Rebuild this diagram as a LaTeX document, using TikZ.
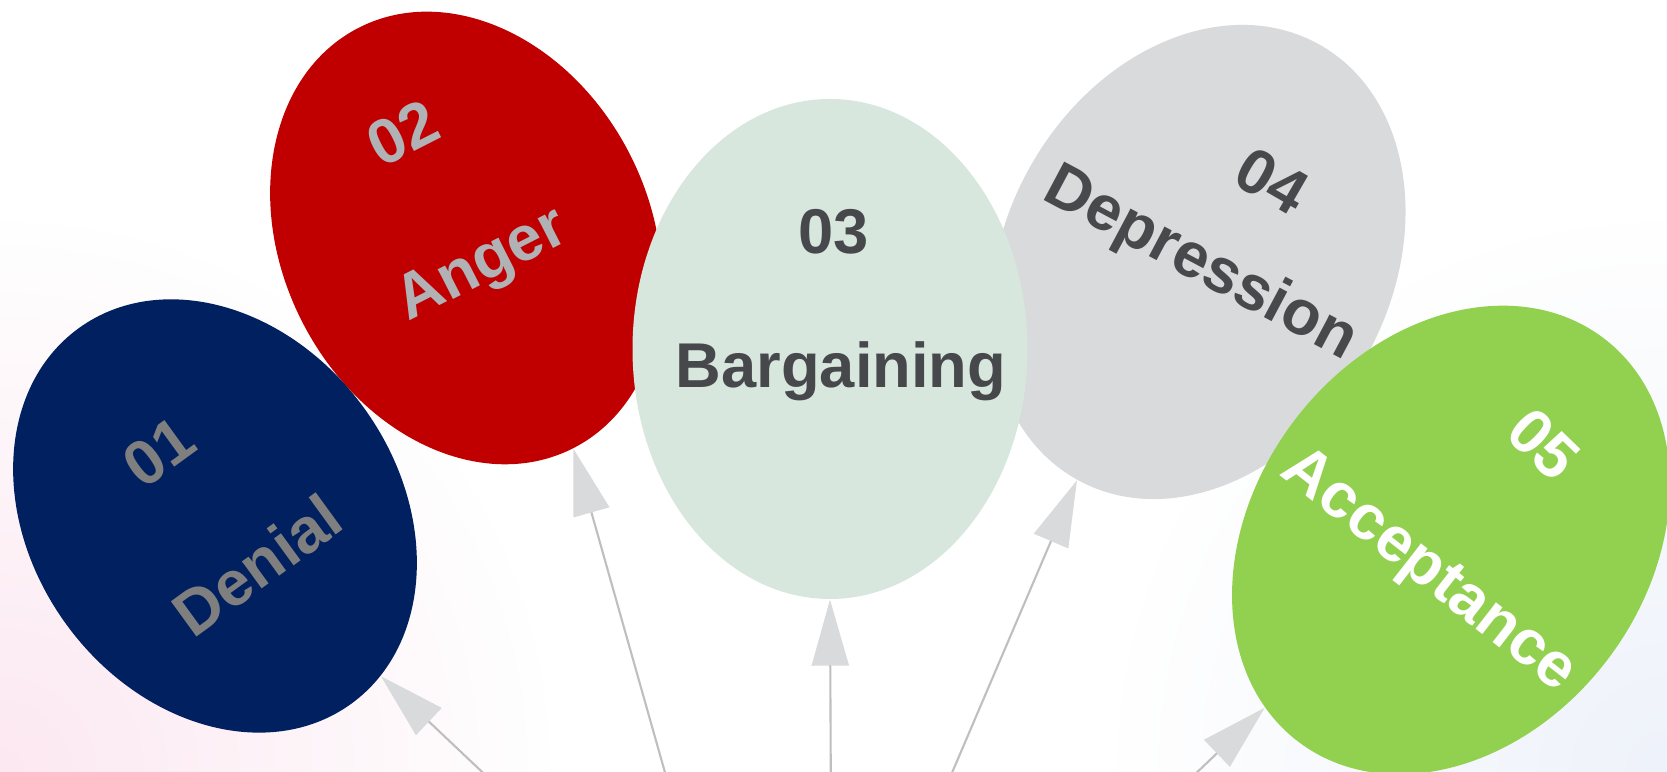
\documentclass[tikz,border=0pt]{standalone}
\usepackage{fontspec}
\setmainfont{Liberation Sans}
\usetikzlibrary{shapes.geometric,arrows.meta,fadings}
\definecolor{denialfill}{HTML}{002060}
\definecolor{denialtext}{HTML}{7F7F7F}
\definecolor{angerfill}{HTML}{C00000}
\definecolor{angertext}{HTML}{B0B2B5}
\definecolor{bargainfill}{HTML}{D7E7DD}
\definecolor{bargaintext}{HTML}{47484B}
\definecolor{depressfill}{HTML}{D9DADC}
\definecolor{depresstext}{HTML}{48494C}
\definecolor{acceptfill}{HTML}{92D050}
\definecolor{cordgrey}{HTML}{BFBFBF}
\definecolor{tipgrey}{HTML}{D9DADC}
\definecolor{bgpink}{HTML}{FCE8F1}
\definecolor{bgblue}{HTML}{EEF2FA}
\tikzfading[name=glow, inner color=transparent!0, outer color=transparent!100]

\begin{document}
\begin{tikzpicture}[
    balloon/.style={ellipse, inner sep=0pt},
    word/.style={font=\bfseries\fontsize{18}{20}\selectfont, inner sep=0pt},
    cord/.style={draw=cordgrey, line width=0.6pt, -{Triangle[length=6.6mm, width=3.7mm, color=tipgrey]}}]
        \useasboundingbox (0,0) rectangle (16.67,7.72);
        \clip (0,0) rectangle (16.67,7.72);
        \fill[white] (0,0) rectangle (16.67,7.72);
        \fill[bgpink, path fading=glow] (0,0) circle (5.5);
        \fill[bgblue, path fading=glow] (16.67,0) circle (5.5);

        \node(B2) [balloon, fill=angerfill, minimum width=3.68cm, minimum height=4.72cm, rotate=27] at (4.66,5.34) {};
        \node(B1) [balloon, fill=denialfill, minimum width=3.68cm, minimum height=4.64cm, rotate=36] at (2.15,2.56) {};
        \node(B4) [balloon, fill=depressfill, minimum width=3.86cm, minimum height=4.98cm, rotate=-29] at (11.98,5.10) {};
        \node(B3) [balloon, fill=bargainfill, minimum width=3.95cm, minimum height=5.00cm] at (8.30,4.23) {};
        \node(B5) [balloon, fill=acceptfill, minimum width=3.94cm, minimum height=5.06cm, rotate=-37] at (14.51,2.32) {};

        \node(N1) [word, text=denialtext, rotate=36] at (1.59,3.20) {01};
        \node(T1) [word, text=denialtext, rotate=36] at (2.57,2.07) {Denial};
        \node(N2) [word, text=angertext, rotate=27] at (4.03,6.39) {02};
        \node(T2) [word, text=angertext, rotate=27] at (4.83,5.05) {Anger};
        \node(N3) [word, text=bargaintext] at (8.34,5.40) {03};
        \node(T3) [word, text=bargaintext] at (8.41,4.01) {Bargaining};
        \node(N4) [word, text=depresstext, rotate=-30] at (12.72,5.91) {04};
        \node(T4) [word, text=depresstext, rotate=-28] at (12.00,5.07) {Depression};
        \node(N5) [word, text=white, rotate=-44] at (15.44,3.28) {05};
        \node(T5) [word, text=white, rotate=-38] at (14.28,2.00) {Acceptance};

        \coordinate (S1) at (5.35,-0.5);
        \coordinate (S2) at (6.79,-0.5);
        \coordinate (S3) at (8.31,-0.5);
        \coordinate (S4) at (9.31,-0.5);
        \coordinate (S5) at (11.45,-0.5);
        \draw[cord] (S1) -- (B1.-80);
        \draw[cord] (S2) -- (B2.south);
        \draw[cord] (S3) -- (B3.south);
        \draw[cord] (S4) -- (B4.south);
        \draw[cord] (S5) -- (B5.-101);
    \end{tikzpicture}
\end{document}
